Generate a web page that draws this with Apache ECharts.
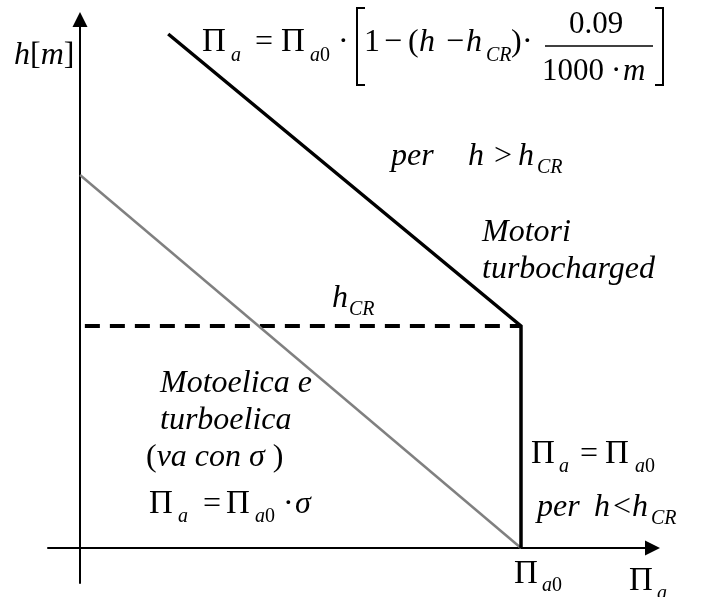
<!DOCTYPE html>
<html>
<head>
<meta charset="utf-8">
<script src="https://cdn.jsdelivr.net/npm/echarts@6.0.0/dist/echarts.min.js"></script>
<style>
  html, body { margin: 0; padding: 0; background: #fff; }
  #chart { width: 706px; height: 597px; }
</style>
</head>
<body>
<div id="chart"></div>
<script>
// Π_a (x, Π_a0 = 1) against height h (y, arbitrary units)
const turboX = [0.2, 1, 1];
const turboH = [5.14, 2.22, 0];
const propX = [0, 1];
const propH = [3.73, 0];
const hcrX = [0.011, 1];
const hcrH = [2.22, 2.22];

const SERIF = '"Liberation Serif", "Times New Roman", serif';

function zip(xs, ys) {
  return xs.map((x, i) => [x, ys[i]]);
}

// x, baseline, font size, rich text
const notes = [
  [14, 66, 32, "{i|h}{n|[}{i|m}{n|]}"],
  // top formula
  [202, 53, 33, "{n|Π}"], [231, 62, 20, "{i|a}"], [255, 53, 32, "{n|=}"],
  [281, 53, 33, "{n|Π}"], [310, 62, 20, "{i|a}{n|0}"], [338, 53, 32, "{n|·}"],
  [364, 53, 32, "{n|1}"], [384, 53, 32, "{n|−}"], [408, 53, 32, "{n|(}"],
  [419, 53, 32, "{i|h}"], [446, 53, 32, "{n|−}"], [466, 53, 32, "{i|h}"],
  [486, 62, 20, "{i|CR}"], [511, 53, 32, "{n|)}"], [522, 53, 32, "{n|·}"],
  [569, 35, 31, "{n|0.09}"], [542, 82, 31, "{n|1000}"], [611, 82, 31, "{n|·}"],
  [623, 82, 31, "{i|m}"],
  // per h > hCR
  [391, 167, 32, "{i|per}"], [468, 167, 32, "{i|h}"], [494, 167, 32, "{n|>}"],
  [518, 167, 32, "{i|h}"], [537, 174, 20, "{i|CR}"],
  [482, 243, 32, "{i|Motori}"], [482, 280, 32, "{i|turbocharged}"],
  [332, 309, 32, "{i|h}"], [349, 316, 20, "{i|CR}"],
  // left block
  [160, 394, 32, "{i|Motoelica e}"], [160, 431, 32, "{i|turboelica}"],
  [146, 468, 32, "{n|(}{i|va con σ}{n| )}"],
  [149, 515, 33, "{n|Π}"], [178, 523, 20, "{i|a}"], [203, 515, 32, "{n|=}"],
  [226, 515, 33, "{n|Π}"], [255, 523, 20, "{i|a}{n|0}"], [283, 515, 32, "{n|·}"],
  [295, 515, 32, "{i|σ}"],
  // right block
  [531, 465, 33, "{n|Π}"], [559, 473, 20, "{i|a}"], [580, 465, 32, "{n|=}"],
  [605, 465, 33, "{n|Π}"], [635, 473, 20, "{i|a}{n|0}"],
  [537, 518, 32, "{i|per}"], [594, 518, 32, "{i|h}"], [613, 518, 32, "{n|<}"],
  [632, 518, 32, "{i|h}"], [651, 525, 20, "{i|CR}"],
  // axis labels
  [514, 585, 33, "{n|Π}"], [542, 592, 20, "{i|a}{n|0}"],
  [629, 592, 33, "{n|Π}"], [657, 600, 20, "{i|a}"]
];

function noteGraphic([x, base, size, text]) {
  return {
    type: "text",
    x: x,
    y: base - 0.3375 * size,
    silent: true,
    style: {
      text: text,
      align: "left",
      verticalAlign: "middle",
      fill: "#000",
      rich: {
        n: { fontFamily: SERIF, fontSize: size, fontStyle: "normal", fill: "#000" },
        i: { fontFamily: SERIF, fontSize: size, fontStyle: "italic", fill: "#000" }
      }
    }
  };
}

const bracketStyle = { stroke: "#000", lineWidth: 2, fill: null };
const formulaShapes = [
  { type: "polyline", shape: { points: [[365, 8], [357, 8], [357, 85], [365, 85]] }, style: bracketStyle },
  { type: "polyline", shape: { points: [[655, 8], [663, 8], [663, 85], [655, 85]] }, style: bracketStyle },
  { type: "line", shape: { x1: 545, y1: 46, x2: 653, y2: 46 }, style: { stroke: "#000", lineWidth: 1.5 } }
];

const axisCommon = {
  type: "value",
  axisTick: { show: false },
  axisLabel: { show: false },
  splitLine: { show: false },
  axisLine: {
    show: true,
    onZero: true,
    symbol: ["none", "triangle"],
    symbolSize: [15, 15],
    lineStyle: { color: "#000", width: 2 }
  }
};

const chart = echarts.init(document.getElementById("chart"), null, { renderer: "canvas" });
chart.setOption({
  backgroundColor: "#fff",
  animation: false,
  grid: { left: 48, right: 53.5, top: 19.5, bottom: 14 },
  xAxis: Object.assign({}, axisCommon, { min: -0.0726, max: 1.2982 }),
  yAxis: Object.assign({}, axisCommon, { min: -0.35, max: 5.285 }),
  series: [
    {
      type: "line",
      data: zip(hcrX, hcrH),
      symbol: "none",
      clip: false,
      lineStyle: { color: "#000", width: 4, type: [15, 10] },
      z: 2
    },
    {
      type: "line",
      data: zip(propX, propH),
      symbol: "none",
      clip: false,
      lineStyle: { color: "#808080", width: 2.5 },
      z: 3
    },
    {
      type: "line",
      data: zip(turboX, turboH),
      symbol: "none",
      clip: false,
      lineStyle: { color: "#000", width: 3.5, join: "miter" },
      z: 4
    }
  ],
  graphic: formulaShapes.concat(notes.map(noteGraphic))
});
</script>
</body>
</html>
